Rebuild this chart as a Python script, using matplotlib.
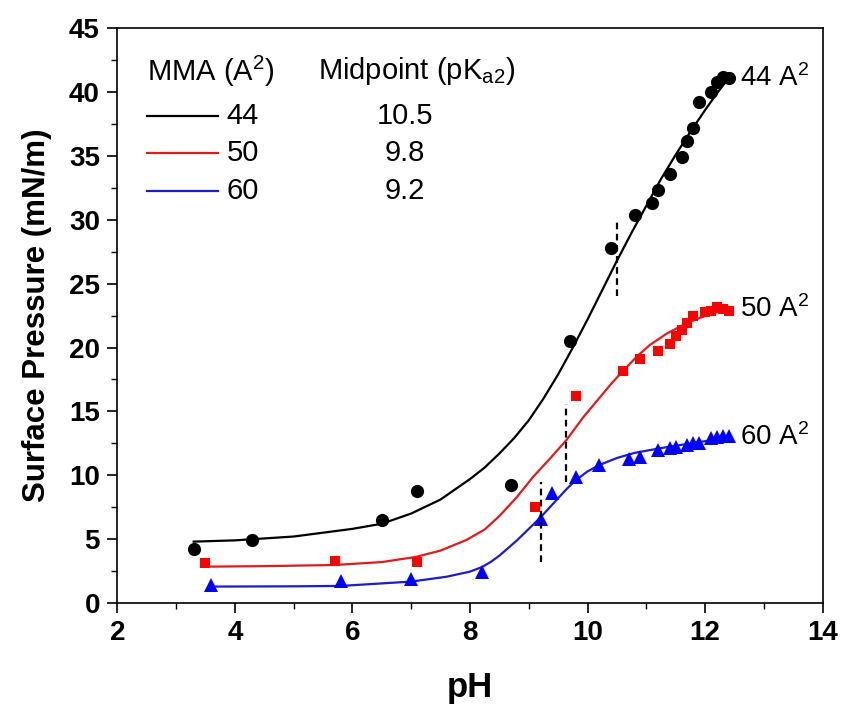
import matplotlib
matplotlib.use("Agg")
import matplotlib.pyplot as plt
from matplotlib.ticker import MultipleLocator

# measured points
ph_44 = [3.3, 4.3, 6.5, 7.1, 8.7, 9.7, 10.4, 10.8, 11.1, 11.2, 11.4, 11.6, 11.7, 11.8, 11.9, 12.1, 12.2, 12.3, 12.4]
sp_44 = [4.2, 4.9, 6.5, 8.8, 9.2, 20.5, 27.8, 30.4, 31.3, 32.3, 33.6, 34.9, 36.2, 37.2, 39.2, 40.0, 40.8, 41.2, 41.1]

ph_50 = [3.5, 5.7, 7.1, 9.1, 9.8, 10.6, 10.9, 11.2, 11.4, 11.5, 11.6, 11.7, 11.8, 12.0, 12.1, 12.2, 12.3, 12.4]
sp_50 = [3.15, 3.3, 3.2, 7.5, 16.2, 18.2, 19.1, 19.7, 20.3, 20.9, 21.4, 21.9, 22.5, 22.8, 22.9, 23.2, 23.0, 22.9]

ph_60 = [3.6, 5.8, 7.0, 8.2, 9.2, 9.4, 9.8, 10.2, 10.7, 10.9, 11.2, 11.4, 11.5, 11.7, 11.8, 11.9, 12.1, 12.2, 12.3, 12.4]
sp_60 = [1.4, 1.7, 1.85, 2.4, 6.55, 8.6, 9.9, 10.8, 11.3, 11.45, 12.0, 12.1, 12.2, 12.4, 12.5, 12.55, 12.9, 13.0, 13.05, 13.05]

# fitted curves
fit_ph_44 = [3.3, 4.0, 5.0, 6.0, 6.5, 7.0, 7.5, 8.0, 8.25, 8.5, 8.75, 9.0, 9.25, 9.5, 9.75, 10.0, 10.25,
             10.5, 10.75, 11.0, 11.25, 11.5, 11.75, 12.0, 12.2, 12.4]
fit_sp_44 = [4.8, 4.9, 5.2, 5.8, 6.2, 7.0, 8.1, 9.7, 10.6, 11.7, 12.9, 14.3, 16.0, 17.9, 20.0, 22.2, 24.5,
             26.8, 29.0, 31.1, 33.2, 35.1, 36.9, 38.6, 39.9, 41.1]

fit_ph_50 = [3.5, 4.5, 5.7, 6.5, 7.08, 7.5, 7.94, 8.25, 8.5, 8.8, 9.08, 9.36, 9.64, 9.92, 10.21, 10.41, 10.61,
             10.84, 11.06, 11.35, 11.68, 11.9, 12.14, 12.42]
fit_sp_50 = [2.84, 2.88, 2.97, 3.2, 3.6, 4.1, 4.93, 5.75, 6.8, 8.3, 9.9, 11.3, 12.75, 14.5, 16.1, 17.2, 18.2,
             19.3, 20.2, 21.1, 21.9, 22.3, 22.7, 23.0]

fit_ph_60 = [3.6, 5.0, 5.8, 7.0, 7.6, 8.0, 8.2, 8.35, 8.5, 8.65, 8.8, 9.0, 9.2, 9.35, 9.5, 9.65, 9.8, 10.0,
             10.2, 10.5, 10.8, 11.1, 11.35, 11.9, 12.42]
fit_sp_60 = [1.28, 1.3, 1.33, 1.67, 2.05, 2.45, 2.8, 3.2, 3.7, 4.3, 4.9, 5.8, 6.7, 7.45, 8.2, 8.95, 9.6, 10.3,
             10.8, 11.35, 11.75, 12.0, 12.2, 12.6, 12.95]

# midpoint markers: x, y bottom, y top
mid_x = [10.5, 9.63, 9.2]
mid_lo = [24.0, 9.5, 3.2]
mid_hi = [30.0, 15.6, 9.5]

mma = ["44", "50", "60"]
pka = ["10.5", "9.8", "9.2"]

plt.rcParams.update({
    "font.family": "Liberation Sans",
    "mathtext.fontset": "custom",
    "mathtext.rm": "Liberation Sans",
    "mathtext.it": "Liberation Sans:italic",
    "mathtext.bf": "Liberation Sans:bold",
    "axes.linewidth": 1.2,
    "xtick.direction": "out",
    "ytick.direction": "out",
    "xtick.major.size": 7.5,
    "ytick.major.size": 7.5,
    "xtick.minor.size": 4.5,
    "ytick.minor.size": 4.5,
    "xtick.major.width": 1.2,
    "ytick.major.width": 1.2,
    "xtick.minor.width": 1.0,
    "ytick.minor.width": 1.0,
})

LINE_COLORS = ["black", "#dd1c1c", "#1c1cc8"]
MARK_COLORS = ["black", "red", "blue"]

fig = plt.figure(figsize=(8.43, 7.11), dpi=100)
ax = fig.add_axes([0.1391, 0.152, 0.8368, 0.8082])

fits = [(fit_ph_44, fit_sp_44), (fit_ph_50, fit_sp_50), (fit_ph_60, fit_sp_60)]
points = [(ph_44, sp_44, "o", 9.5), (ph_50, sp_50, "s", 7.5), (ph_60, sp_60, "^", 9.5)]

for (fx, fy), lc in zip(fits, LINE_COLORS):
    ax.plot(fx, fy, color=lc, linewidth=1.6, zorder=2)
for (px, py, mk, ms), mc in zip(points, MARK_COLORS):
    ax.plot(px, py, linestyle="None", marker=mk, markersize=ms, color=mc, markeredgewidth=0, zorder=3)

for x, lo, hi in zip(mid_x, mid_lo, mid_hi):
    ax.plot([x, x], [lo, hi], color="black", linestyle=(0, (3, 2)), linewidth=1.6, zorder=4)

# curve labels on the right
for lab, fy in zip(mma, [fit_sp_44, fit_sp_50, fit_sp_60]):
    ax.text(12.6, fy[-1], f"{lab} A$^{{2}}$", fontsize=20, va="center", ha="left")

# table-like legend
ax.text(0.042, 0.925, "MMA (A$^{2}$)", transform=ax.transAxes, fontsize=21, va="center")
ax.text(0.285, 0.925, "Midpoint (pK$_{\\mathrm{a2}}$)", transform=ax.transAxes, fontsize=21, va="center")
rows_y = [0.847, 0.783, 0.716]
for lab, val, c, ry in zip(mma, pka, LINE_COLORS, rows_y):
    ax.plot([0.042, 0.143], [ry, ry], color=c, linewidth=1.6, transform=ax.transAxes)
    ax.text(0.155, ry, lab, transform=ax.transAxes, fontsize=21, va="center")
    ax.text(0.408, ry, val, transform=ax.transAxes, fontsize=21, va="center", ha="center")

ax.set_xlim(2, 14)
ax.set_ylim(0, 45)
ax.xaxis.set_major_locator(MultipleLocator(2))
ax.xaxis.set_minor_locator(MultipleLocator(1))
ax.yaxis.set_major_locator(MultipleLocator(5))
ax.yaxis.set_minor_locator(MultipleLocator(2.5))
ax.tick_params(which="both", top=False, right=False)
ax.tick_params(labelsize=20, pad=5)
for t in ax.get_xticklabels() + ax.get_yticklabels():
    t.set_fontweight("bold")

ax.set_xlabel("pH", fontsize=25, fontweight="bold", labelpad=18)
ax.set_ylabel("Surface Pressure (mN/m)", fontsize=22.5, fontweight="bold", labelpad=12)

fig.savefig("out.png", dpi=100)
